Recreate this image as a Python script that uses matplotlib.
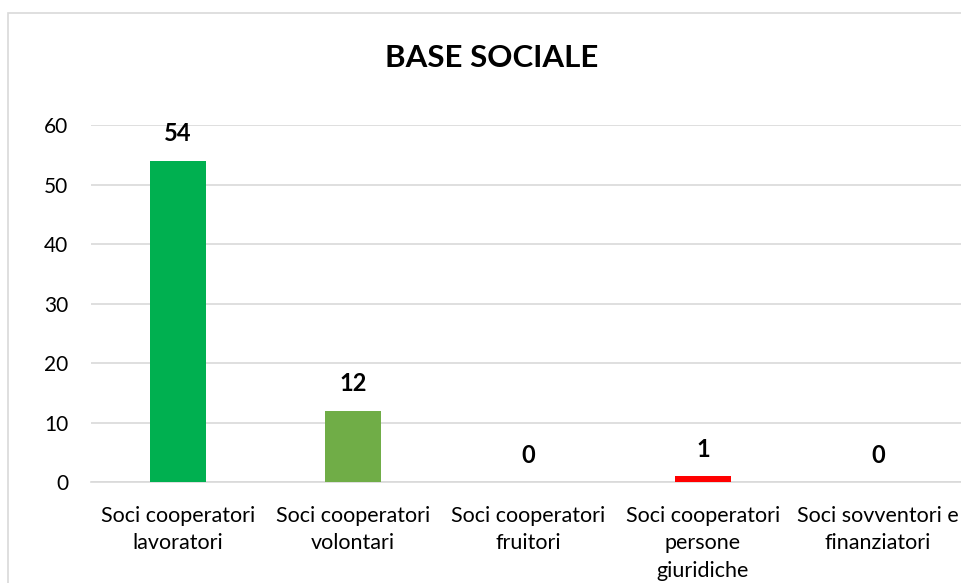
import matplotlib
matplotlib.use("Agg")
import matplotlib.pyplot as plt
from matplotlib.patches import Rectangle

categories = ["Soci cooperatori\nlavoratori", "Soci cooperatori\nvolontari",
              "Soci cooperatori\nfruitori", "Soci cooperatori\npersone\ngiuridiche",
              "Soci sovventori e\nfinanziatori"]
values = [54, 12, 0, 1, 0]
colors = ["#00B050", "#70AD47", "#4472C4", "#FF0000", "#FFC000"]
yticks = [0, 10, 20, 30, 40, 50, 60]

plt.rcParams['font.family'] = ['Lato', 'DejaVu Sans']

fig = plt.figure(figsize=(9.61, 5.83), dpi=100)

# chart border (cut off at right and bottom like the reference)
fig.patches.append(Rectangle((8 / 961, -0.1), 1.1, 1 - 13 / 583 + 0.1,
                             transform=fig.transFigure, fill=False,
                             edgecolor="#D9D9D9", linewidth=1.2))

ax = fig.add_axes([0.0942, 0.1732, 0.9105, 0.6124])
x = range(len(categories))
ax.bar(x, values, width=0.32, color=colors, zorder=3)
ax.set_xlim(-0.5, 4.5)
ax.set_ylim(0, 60)
ax.set_yticks(yticks)
ax.yaxis.grid(True, color="#D9D9D9", linewidth=1.2, zorder=0)
for s in ax.spines.values():
    s.set_visible(False)
ax.spines['bottom'].set_visible(True)
ax.spines['bottom'].set_color("#D9D9D9")
ax.spines['bottom'].set_linewidth(1.2)
ax.tick_params(axis='y', length=0, labelsize=15, pad=16)
ax.tick_params(axis='x', length=0, labelsize=15.5, pad=17)
ax.set_xticks(list(x))
ax.set_xticklabels(categories, linespacing=1.48)

for i, v in enumerate(values):
    ax.annotate(str(v), (i, v), xytext=(0, 11), textcoords="offset points",
                ha="center", va="bottom", fontsize=17, fontweight="bold")

fig.text(492 / 961, 1 - 58 / 583, "BASE SOCIALE", ha="center", va="center",
         fontsize=22.5, fontweight="bold")

fig.savefig("out.png", dpi=100)
